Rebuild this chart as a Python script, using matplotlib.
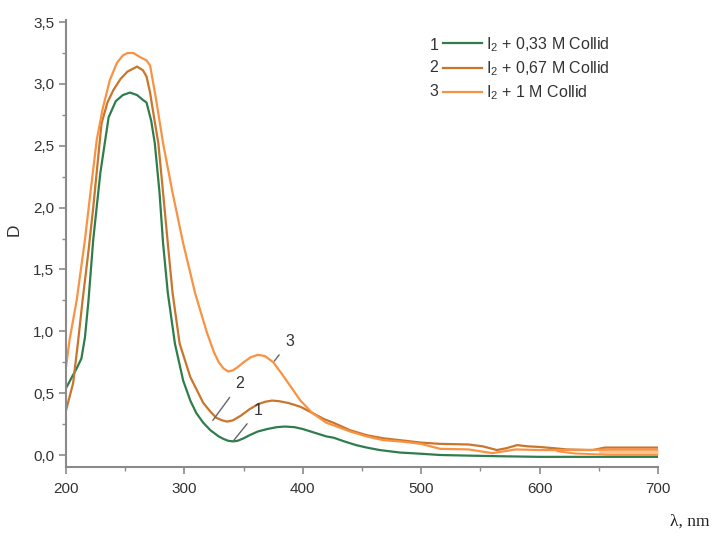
import matplotlib
matplotlib.use("Agg")
import matplotlib.pyplot as plt
from matplotlib.ticker import MultipleLocator, FuncFormatter

plt.rcParams['font.family'] = ['Liberation Sans', 'DejaVu Sans']
plt.rcParams['mathtext.fontset'] = 'custom'
plt.rcParams['mathtext.rm'] = 'Liberation Sans'

# --- data (wavelength, nm / optical density D) ---
wl_1 = [200, 205, 209, 213, 216, 219, 223, 229, 236, 242, 248, 254, 260, 265, 268,
        272, 275, 279, 282, 286, 292, 299, 305, 310, 316, 322, 329, 333, 337, 341,
        345, 350, 355, 362, 370, 378, 385, 393, 400, 410, 420, 426, 435, 445, 454,
        465, 482, 500, 516, 540, 566, 600, 650, 700]
d_1 = [0.54, 0.63, 0.70, 0.78, 0.95, 1.25, 1.74, 2.28, 2.73, 2.86, 2.91, 2.93, 2.91, 2.87, 2.85,
       2.70, 2.52, 2.12, 1.71, 1.31, 0.90, 0.60, 0.44, 0.34, 0.26, 0.20, 0.15, 0.13, 0.115, 0.11,
       0.115, 0.135, 0.16, 0.19, 0.21, 0.225, 0.23, 0.225, 0.21, 0.18, 0.15, 0.14, 0.11, 0.08, 0.06,
       0.04, 0.02, 0.01, 0.0, -0.005, -0.01, -0.015, -0.015, -0.015]

wl_2 = [200, 206, 210, 214, 219, 223, 230, 235, 240, 246, 252, 260, 265, 268, 271,
        274, 278, 282, 286, 290, 296, 305, 316, 322, 327, 332, 336, 341, 348, 355,
        362, 368, 374, 380, 388, 398, 410, 418, 426, 440, 454, 468, 482, 500, 516,
        540, 552, 564, 572, 581, 590, 600, 612, 623, 645, 655, 670, 700]
d_2 = [0.36, 0.58, 0.90, 1.25, 1.65, 2.00, 2.68, 2.85, 2.95, 3.04, 3.10, 3.14, 3.11, 3.06, 2.93,
       2.75, 2.52, 2.12, 1.71, 1.31, 0.90, 0.63, 0.42, 0.35, 0.30, 0.28, 0.27, 0.28, 0.32, 0.37,
       0.41, 0.43, 0.44, 0.435, 0.42, 0.39, 0.33, 0.29, 0.26, 0.20, 0.16, 0.135, 0.12, 0.10, 0.09,
       0.085, 0.07, 0.04, 0.055, 0.08, 0.07, 0.065, 0.055, 0.045, 0.04, 0.06, 0.06, 0.06]

wl_3 = [200, 203, 209, 216, 221, 226, 231, 237, 243, 248, 252, 257, 262, 268, 271,
        276, 282, 290, 299, 309, 319, 325, 329, 333, 337, 341, 345, 350, 356, 362,
        368, 375, 382, 390, 398, 408, 420, 426, 440, 454, 468, 482, 500, 516, 540,
        560, 570, 580, 600, 620, 640, 660, 700]
d_3 = [0.71, 0.93, 1.25, 1.74, 2.15, 2.55, 2.80, 3.03, 3.17, 3.23, 3.25, 3.25, 3.22, 3.19, 3.15,
       2.88, 2.52, 2.12, 1.71, 1.31, 0.99, 0.83, 0.75, 0.70, 0.675, 0.685, 0.71, 0.75, 0.79, 0.81,
       0.80, 0.75, 0.66, 0.55, 0.44, 0.34, 0.26, 0.24, 0.19, 0.15, 0.12, 0.11, 0.09, 0.05, 0.045,
       0.015, 0.03, 0.045, 0.04, 0.04, 0.04, 0.045, 0.045]
# noisy lower trace of curve 3 at the long-wave end
wl_3_low = [615, 630, 650, 660, 700]
d_3_low = [0.03, 0.012, 0.005, 0.0, 0.0]

labels = [r"I$_{2}$ + 0,33 M Collid", r"I$_{2}$ + 0,67 M Collid", r"I$_{2}$ + 1 M Collid"]
colors = ["#2f7d4c", "#c9752c", "#f99242"]

# curve number labels: (number, point on curve, text position)
curve_tags = [("1", (341, 0.11), (362, 0.36)),
              ("2", (324, 0.28), (347, 0.58)),
              ("3", (376, 0.76), (389, 0.92))]

GRAY = "#8a8a8a"
TXT = "#333333"

fig = plt.figure(figsize=(7.13, 5.37), dpi=100)
ax = fig.add_axes([66 / 713, 1 - 467 / 537, (658 - 66) / 713, (467 - 19.6) / 537])

for wl, d, c, lab in zip([wl_1, wl_2, wl_3], [d_1, d_2, d_3], colors, labels):
    ax.plot(wl, d, color=c, lw=1.6, label=lab, solid_joinstyle='round')
ax.plot(wl_3_low, d_3_low, color=colors[2], lw=1.4)
ax.fill_between(wl_3_low[2:], d_3_low[2:], [d_3[-2], d_3[-1], d_3[-1]],
                color=colors[2], alpha=0.55, lw=0)

ax.set_xlim(200, 700)
ax.set_ylim(-0.097, 3.52)

for side in ['top', 'right']:
    ax.spines[side].set_visible(False)
for side in ['left', 'bottom']:
    ax.spines[side].set_color(GRAY)
    ax.spines[side].set_linewidth(1.5)

ax.xaxis.set_major_locator(MultipleLocator(100))
ax.xaxis.set_minor_locator(MultipleLocator(50))
ax.yaxis.set_major_locator(MultipleLocator(0.5))
ax.yaxis.set_minor_locator(MultipleLocator(0.25))
ax.yaxis.set_major_formatter(FuncFormatter(lambda v, p: f"{v:.1f}".replace('.', ',')))
ax.tick_params(which='major', direction='out', length=5, width=1.2, color=GRAY,
               labelsize=11, labelcolor=TXT)
ax.tick_params(which='minor', direction='out', length=3, width=1.0, color=GRAY)
ax.tick_params(axis='x', pad=6)

for num, xy, xyt in curve_tags:
    ax.annotate(num, xy=xy, xytext=xyt, fontsize=11.5, color=TXT, ha='center', va='center',
                arrowprops=dict(arrowstyle='-', color='#666666', lw=1.0, shrinkA=4, shrinkB=0))

leg = ax.legend(loc='upper left', bbox_to_anchor=(443 / 713, 1 - 35 / 537),
                bbox_transform=fig.transFigure, frameon=False, borderaxespad=0, borderpad=0,
                handlelength=2.45, handletextpad=0.25, labelspacing=0.35, fontsize=11.5)
for t in leg.get_texts():
    t.set_color(TXT)

for i, y in enumerate([45, 68, 91]):
    fig.text(434 / 713, 1 - y / 537, str(i + 1), fontsize=11.5, color=TXT, ha='center', va='center')

fig.text(14 / 713, 1 - 230 / 537, "D", fontsize=12.5, color=TXT, rotation=90, ha='center', va='center')
fig.text(690 / 713, 1 - 522 / 537, "λ, nm", fontsize=12.5, color='#222222', ha='center', va='center',
         family=['Liberation Serif', 'DejaVu Serif'])

fig.savefig("out.png", dpi=100)
